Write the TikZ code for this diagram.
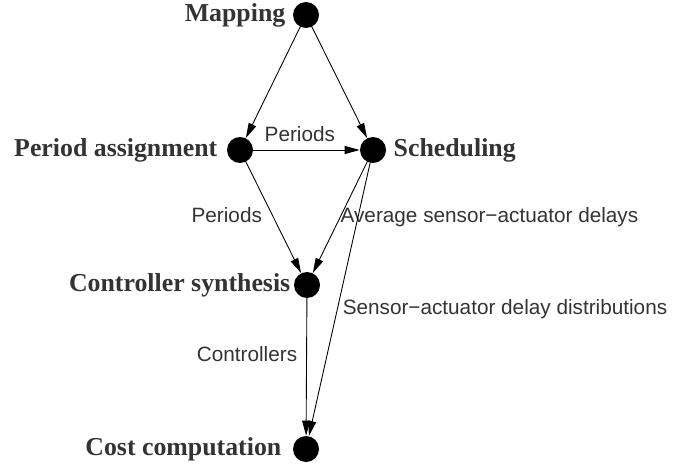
\documentclass[tikz,border=0pt]{standalone}
\usepackage{fontspec}
\setmainfont{Liberation Serif}
\newfontfamily\flowfont{Liberation Sans}
\usetikzlibrary{arrows.meta,positioning}
\definecolor{stageText}{RGB}{51,51,51}

\begin{document}
\begin{tikzpicture}[
  node distance=0.14cm,
  stage/.style={circle, fill=black, minimum size=0.52cm, inner sep=0pt},
  stagename/.style={inner sep=0pt, text=stageText, font=\fontsize{14.7}{16}\selectfont\bfseries},
  flow/.style={inner sep=0pt, text=stageText, font=\flowfont\fontsize{11.8}{13}\selectfont},
  arrow/.style={-{Triangle[length=0.3cm, width=0.16cm]}, line width=0.5pt}
]
\useasboundingbox (0,0) rectangle (13.98,-9.3);
\node[stage] (map) at (6.12,-0.30) {};
\node[stage] (assign) at (4.80,-3.00) {};
\node[stage] (sched) at (7.46,-3.00) {};
\node[stage] (synth) at (6.14,-5.70) {};
\node[stage] (cost) at (6.12,-8.98) {};
\node[stagename, left=of map] (mapname) {Mapping};
\node[stagename, left=0.18cm of assign] (assignname) {Period assignment};
\node[stagename, right=of sched] (schedname) {Scheduling};
\node[stagename, left=0.06cm of synth] (synthname) {Controller synthesis};
\node[stagename, left=0.22cm of cost] (costname) {Cost computation};
\draw[arrow] (map.center) -- (assign);
\draw[arrow] (map.center) -- (sched);
\draw[arrow] (assign.center) -- (sched) node[flow, midway, above=0.16cm] (periodsa) {Periods};
\draw[arrow] (assign.center) -- (synth) node[flow, pos=0.53, left=0.2cm] (periodsb) {Periods};
\draw[arrow] (sched.center) -- (synth) node[flow, pos=0.545, right=0pt] (avgdelays) {Average sensor−actuator delays};
\draw[arrow] (sched.center) -- (cost) node[flow, pos=0.557, right=0.1cm] (delaydist) {Sensor−actuator delay distributions};
\draw[arrow] (synth.center) -- (cost) node[flow, pos=0.46, left=0.18cm] (ctrls) {Controllers};
\end{tikzpicture}
\end{document}
